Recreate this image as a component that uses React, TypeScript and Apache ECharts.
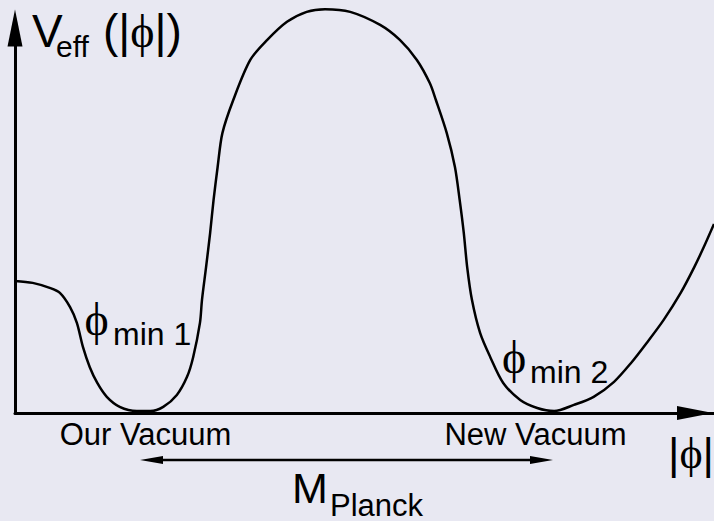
import React, { useEffect, useRef } from "react";
import * as echarts from "echarts";

// Field magnitude |ϕ| (arbitrary units) and effective potential V_eff (arbitrary units)
const phiValues = [
  0, 2.6, 5.1, 6.6, 8.1, 9.1, 10.0, 11.0, 12.1, 13.5, 15.4, 17.9, 19.9, 21.8, 23.8,
  25.3, 26.2, 27.2, 27.5, 28.1, 28.7, 29.2, 29.8, 30.5, 32.1, 34.6, 37.1, 40.0, 42.9,
  45.6, 49.3, 53.7, 56.6, 59.1, 61.0, 61.9, 63.5, 64.7, 65.4, 66.0, 66.5, 67.2, 68.4,
  69.9, 71.8, 74.3, 76.8, 79.3, 82.2, 85.1, 88.1, 90.6, 92.9, 95.4, 97.9, 99.9, 101.3,
  102.8,
];
const vEffValues = [
  34.3, 33.8, 32.5, 31.2, 27.5, 23.4, 17.1, 11.9, 7.8, 4.2, 1.6, 0.5, 0.5, 1.6, 4.7,
  9.4, 14.5, 23.4, 29.4, 37.9, 46.8, 55.3, 63.9, 72.7, 81.3, 91.7, 96.9, 101.6, 104.2,
  104.9, 104.2, 100.8, 96.9, 91.7, 85.7, 81.3, 72.7, 63.9, 55.3, 46.8, 37.9, 29.4, 20.8,
  14.5, 7.8, 3.4, 1.3, 0.5, 2.1, 4.2, 8.1, 13.0, 18.2, 24.2, 31.2, 37.9, 43.1,
  49.1,
];

const SANS = "Liberation Sans, Arial, sans-serif";
const SERIF = "Liberation Serif, DejaVu Serif, Times New Roman, serif";

export default function App() {
  const ref = useRef<HTMLDivElement>(null);
  useEffect(() => {
    document.body.style.margin = "0";
    const chart = echarts.init(ref.current!, null, { renderer: "svg" });
    const data = phiValues.map((x, i) => [x, vEffValues[i]]);
    const txt = (text: string, x: number, y: number, size: number, family: string, align = "left") => ({
      type: "text",
      x,
      y,
      silent: true,
      style: {
        text,
        fill: "#000",
        font: `${size}px ${family}`,
        lineHeight: Math.round(size * 0.8),
        align,
        verticalAlign: "middle",
      },
    });
    const richTxt = (text: string, x: number, y: number, size: number, align = "left") => ({
      type: "text",
      x,
      y,
      silent: true,
      style: {
        text,
        fill: "#000",
        font: `${size}px ${SANS}`,
        lineHeight: Math.round(size * 0.8),
        align,
        verticalAlign: "middle",
        rich: {
          s: { font: `${size}px ${SANS}`, fill: "#000", lineHeight: Math.round(size * 0.8) },
          p: { font: `${size}px ${SERIF}`, fill: "#000", lineHeight: Math.round(size * 0.8) },
        },
      },
    });
    chart.setOption({
      animation: false,
      backgroundColor: "#e8e8f2",
      grid: { left: 15, right: 0, top: 28, bottom: 108 },
      xAxis: {
        type: "value",
        min: 0,
        max: 102.8,
        axisLine: {
          show: true,
          lineStyle: { color: "#000", width: 3 },
          symbol: ["none", "triangle"],
          symbolSize: [14, 36],
          symbolOffset: [0, -19],
        },
        axisTick: { show: false },
        axisLabel: { show: false },
        splitLine: { show: false },
      },
      yAxis: {
        type: "value",
        min: 0,
        max: 100,
        axisLine: {
          show: true,
          lineStyle: { color: "#000", width: 3 },
          symbol: ["none", "triangle"],
          symbolSize: [15, 37],
        },
        axisTick: { show: false },
        axisLabel: { show: false },
        splitLine: { show: false },
      },
      series: [
        {
          type: "line",
          data,
          smooth: 0.3,
          showSymbol: false,
          clip: false,
          lineStyle: { color: "#000", width: 2.5 },
          z: 3,
        },
      ],
      graphic: [
        // y-axis title
        txt("V", 32, 31, 46, SANS),
        txt("eff", 56, 46, 30, SANS),
        richTxt("{s|(|}{p|ϕ}{s||)}", 103, 31, 46),
        // minima labels
        txt("ϕ", 96.5, 319, 46, SERIF, "center"),
        txt("min 1", 113, 334, 32, SANS),
        txt("ϕ", 514, 357, 46, SERIF, "center"),
        txt("min 2", 530, 372, 32, SANS),
        // vacuum labels
        txt("Our Vacuum", 145.5, 434, 31, SANS, "center"),
        txt("New Vacuum", 535.5, 434, 31, SANS, "center"),
        // x-axis title
        richTxt("{s||}{p|ϕ}{s||}", 714, 453, 44, "right"),
        // Planck mass arrow
        {
          type: "line",
          silent: true,
          shape: { x1: 158, y1: 460, x2: 535, y2: 460 },
          style: { stroke: "#000", lineWidth: 2.5 },
        },
        {
          type: "polygon",
          silent: true,
          shape: { points: [[140, 460], [163, 456], [163, 464]] },
          style: { fill: "#000" },
        },
        {
          type: "polygon",
          silent: true,
          shape: { points: [[553, 460], [530, 456], [530, 464]] },
          style: { fill: "#000" },
        },
        txt("M", 292, 488, 43, SANS),
        txt("Planck", 330, 505, 31, SANS),
      ],
    });
    return () => chart.dispose();
  }, []);
  return (
    <div
      ref={ref}
      style={{ position: "absolute", left: 0, top: 0, width: 714, height: 521 }}
    />
  );
}
